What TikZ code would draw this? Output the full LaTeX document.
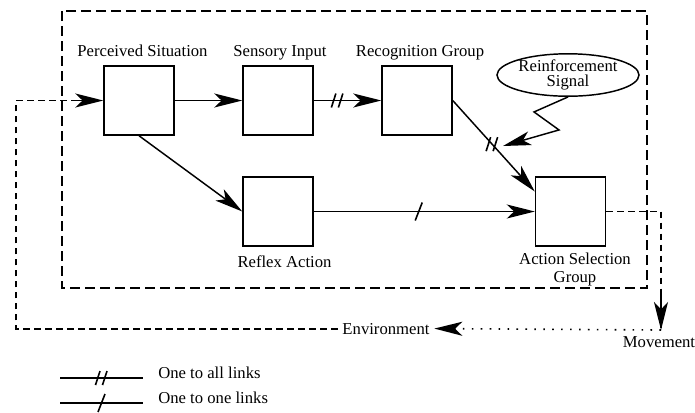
\documentclass[tikz,border=0pt]{standalone}
\usepackage{fontspec}
\setmainfont{Liberation Serif}
\usetikzlibrary{arrows.meta,shapes.geometric,calc}

\begin{document}
\begin{tikzpicture}[x=0.75pt,y=0.75pt,yscale=-1,xscale=1,
  font=\fontsize{12.5}{13.5}\selectfont,
  unit/.style={draw,line width=1.1pt,minimum width=52.5pt,minimum height=51.75pt,inner sep=0pt},
  txt/.style={inner sep=0.75pt},
  link/.style={line width=1.1pt,-{Stealth[length=21pt,width=10.5pt,inset=5.5pt]}},
  loopback/.style={line width=1.4pt,dash pattern=on 5pt off 3.25pt},
  frame/.style={line width=1.4pt,dash pattern=on 7.5pt off 3.75pt},
  allmark/.pic={\draw[-,line width=1.2pt] (-6,-7) -- (-1.5,7) (1,-7) -- (5.5,7);},
  onemark/.pic={\draw[-,line width=1.2pt] (-3.5,-9) -- (3.5,9);}]
  \useasboundingbox (0,0) rectangle (695,412);

  %Dashed frame round the controller
  \draw[frame] (62,11) rectangle (647,288);

  %Shape: Square boxes
  \node[unit] (perc) at (139,100.5) {};
  \node[unit] (sens) at (278,100.5) {};
  \node[unit] (recog) at (417,100.5) {};
  \node[unit] (reflex) at (278,211.5) {};
  \node[unit] (actsel) at (570.5,211.5) {};
  %Shape: Ellipse
  \node[draw,ellipse,line width=1.1pt,minimum width=106.5pt,minimum height=31.5pt,inner sep=0pt,align=center,
        font=\fontsize{12.5}{11}\selectfont] (reinf) at (568,75) {Reinforcement\\Signal};

  % Text Node
  \node[txt,anchor=base] (percT) at (142.5,56.5) {Perceived Situation};
  % Text Node
  \node[txt,anchor=base] (sensT) at (280,56.5) {Sensory Input};
  % Text Node
  \node[txt,anchor=base] (recogT) at (420,56.5) {Recognition Group};
  % Text Node
  \node[txt,anchor=base] (reflexT) at (284.5,267) {Reflex Action};
  % Text Node
  \node[txt,align=center] (actselT) at (575,269) {Action Selection\\Group};
  % Text Node
  \node[inner sep=3.4pt,anchor=base] (envT) at (386,334) {Environment};
  % Text Node
  \node[txt,anchor=base] (moveT) at (659,347) {Movement};
  % Text Node
  \node[txt,anchor=base west] (allT) at (157,378) {One to all links};
  % Text Node
  \node[txt,anchor=base west] (oneT) at (157,403) {One to one links};

  %Straight Lines
  \draw[link] (perc) -- (sens);
  \draw[link] (sens) -- coordinate[pos=0.35] (m1) (recog);
  \draw[link] (recog.east) -- coordinate[pos=0.48] (m2) ($(actsel.west)+(0,-20)$);
  \draw[link] (perc.south) -- (reflex.west);
  \draw[link] (reflex) -- coordinate[pos=0.475] (m3) (actsel);
  \pic at (m1) {allmark};
  \pic at (m2) {allmark};
  \pic at (m3) {onemark};

  %Reinforcement zig-zag
  \coordinate (hit) at (503,146);
  \draw[link] (reinf.south) -- ++(-34,15) -- ++(25,18) -- (hit);

  %Loop through the environment
  \coordinate (mv) at (661,330);
  \coordinate (lp) at (16,100.5);
  \draw[loopback] (actsel.east) -| (mv);
  \draw[line width=1.1pt,-{Stealth[length=21pt,width=10.5pt,inset=5.5pt]}] ($(mv)+(0,-36)$) -- (mv);
  \draw[line width=1.2pt,dash pattern=on 1.2pt off 5.5pt,-{Stealth[length=21pt,width=10.5pt,inset=5.5pt]}] (mv) -- (envT.east);
  \draw[loopback] (envT.west) -| (lp);
  \draw[loopback] (lp) -- ($(perc.west)+(-30,0)$);
  \draw[link] ($(perc.west)+(-30,0)$) -- (perc.west);

  %Key
  \coordinate (ka) at (60,378);
  \coordinate (kb) at (143,378);
  \coordinate (kc) at (60,403);
  \coordinate (kd) at (143,403);
  \draw[line width=1.1pt] (ka) -- coordinate (k1) (kb);
  \draw[line width=1.1pt] (kc) -- coordinate (k2) (kd);
  \pic at (k1) {allmark};
  \pic at (k2) {onemark};
\end{tikzpicture}
\end{document}
